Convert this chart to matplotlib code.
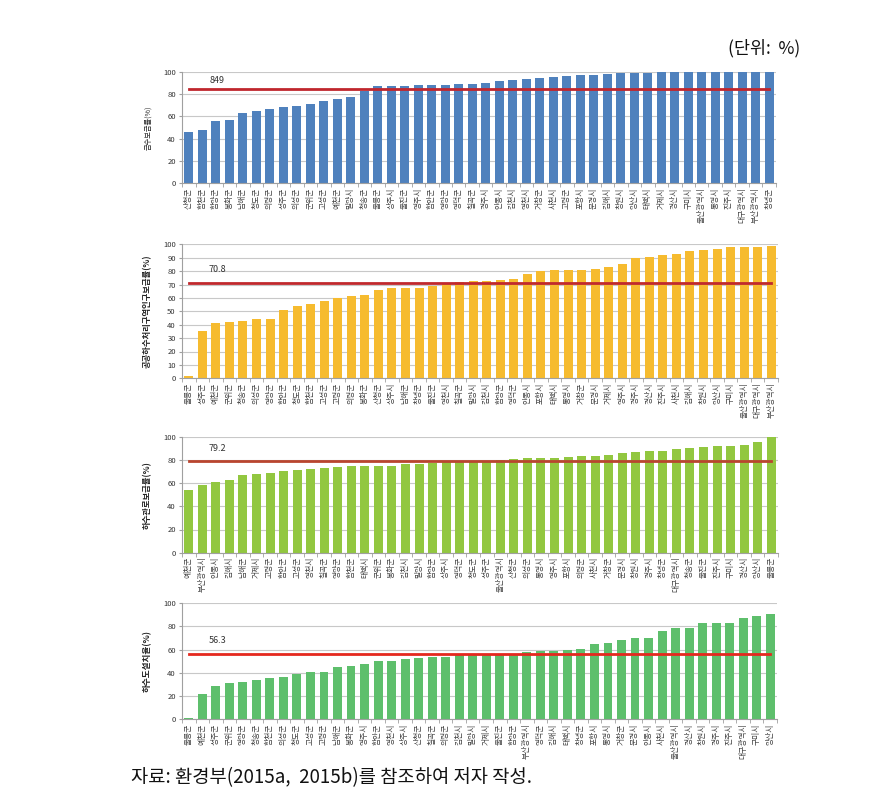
import matplotlib
matplotlib.use('Agg')
import matplotlib.pyplot as plt
import numpy as np

plt.rcParams['font.family'] = ['Noto Sans CJK KR', 'DejaVu Sans']

# 급수보급률
water_names = ['산청군', '합천군', '함양군', '봉화군', '남해군', '청도군', '의령군', '성주군', '의성군', '군위군',
               '고성군', '예천군', '밀양시', '청송군', '울릉군', '상주시', '울진군', '영주시', '함안군', '영양군',
               '영덕군', '칠곡군', '경주시', '안동시', '김천시', '영천시', '거창군', '사천시', '고령군', '포항시',
               '문경시', '김해시', '창원시', '양산시', '태백시', '거제시', '경산시', '구미시', '울산광역시', '통영시',
               '진주시', '대구광역시', '부산광역시', '창녕군']
water_vals = [46.3, 47.5, 55.8, 56.4, 63.3, 64.8, 66.3, 68.0, 69.0, 71.0,
              73.4, 75.2, 77.3, 82.7, 87.2, 87.2, 87.2, 88.0, 88.0, 88.4,
              89.3, 89.3, 89.9, 91.3, 92.2, 93.4, 94.0, 95.0, 95.8, 97.0,
              97.0, 97.9, 98.5, 98.5, 98.8, 99.4, 99.4, 99.4, 99.4, 99.7,
              100.0, 100.0, 100.0, 100.0]
water_mean = 84.9

# 공공하수처리구역인구보급률
sewer_names = ['울릉군', '성주군', '예천군', '군위군', '청송군', '의성군', '영양군', '함안군', '청도군', '합천군',
               '고성군', '고령군', '의령군', '봉화군', '산청군', '상주시', '남해군', '창녕군', '울진군', '영천시',
               '칠곡군', '밀양시', '김천시', '함양군', '영덕군', '안동시', '포항시', '태백시', '통영시', '거창군',
               '문경시', '거제시', '영주시', '경주시', '경산시', '진주시', '사천시', '김해시', '창원시', '양산시',
               '구미시', '울산광역시', '대구광역시', '부산광역시']
sewer_vals = [1.5, 35.6, 41.0, 41.8, 42.8, 44.3, 44.5, 50.7, 54.0, 55.5,
              57.7, 59.7, 61.4, 62.0, 66.0, 67.2, 67.7, 67.7, 68.7, 70.4,
              71.5, 72.4, 72.4, 73.1, 74.1, 77.6, 80.1, 80.8, 80.8, 80.8,
              81.6, 82.8, 85.6, 90.0, 90.3, 91.8, 92.5, 95.0, 95.8, 96.3,
              97.8, 97.8, 97.8, 99.0]
sewer_mean = 70.8

# 하수관로보급률
pipe_names = ['예천군', '부산광역시', '안동시', '김해시', '남해군', '거제시', '고령군', '함안군', '고성군', '영천시',
              '칠곡군', '영양군', '합천군', '태백시', '군위군', '봉화군', '김천시', '밀양시', '함양군', '상주시',
              '영덕군', '청도군', '성주군', '울산광역시', '산청군', '의성군', '통영시', '영주시', '포항시', '의령군',
              '사천시', '거창군', '문경시', '창원시', '경주시', '창녕군', '대구광역시', '청송군', '울진군', '진주시',
              '구미시', '경산시', '양산시', '울릉군']
pipe_vals = [53.7, 58.3, 61.2, 62.6, 67.0, 67.8, 69.0, 70.4, 71.0, 72.4,
             73.3, 73.6, 74.4, 74.4, 74.7, 74.7, 76.1, 76.7, 77.6, 78.2,
             78.6, 79.0, 79.0, 80.2, 81.0, 81.3, 81.6, 81.9, 82.2, 83.0,
             83.0, 84.5, 86.2, 87.0, 87.4, 87.4, 89.4, 90.5, 91.0, 92.0,
             92.2, 92.8, 95.1, 100.0]
pipe_mean = 79.2

# 하수도설치율
install_names = ['울릉군', '예천군', '성주군', '군위군', '영양군', '청송군', '합천군', '의성군', '청도군', '고성군',
                 '고령군', '남해군', '봉화군', '영주시', '함안군', '영천시', '상주시', '산청군', '칠곡군', '의령군',
                 '김천시', '밀양시', '거제시', '울진군', '함양군', '부산광역시', '영덕군', '김해시', '태백시', '창녕군',
                 '포항시', '통영시', '거창군', '문경시', '안동시', '사천시', '울산광역시', '경산시', '창원시', '경주시',
                 '진주시', '대구광역시', '구미시', '양산시']
install_vals = [1.0, 21.6, 28.5, 30.8, 32.3, 33.7, 35.4, 36.3, 38.6, 40.6,
                40.6, 45.0, 45.8, 47.3, 49.9, 50.4, 52.2, 53.0, 53.3, 53.3,
                55.3, 55.3, 55.3, 55.3, 55.3, 57.6, 58.8, 59.0, 59.4, 60.8,
                65.1, 65.4, 68.0, 70.3, 70.3, 76.4, 78.4, 79.0, 83.3, 83.3,
                83.3, 87.0, 89.3, 91.0]
install_mean = 56.3

W, H = 891, 809
fig = plt.figure(figsize=(W / 100, H / 100), dpi=100)


def px_axes(left, right, top, bottom):
    return fig.add_axes([left / W, 1 - bottom / H, (right - left) / W, (bottom - top) / H])


panels = [
    # names, values, mean, color, line color, ylabel, y step, label weight, label size, box, mean text y, text
    (water_names, water_vals, water_mean, '#4F81BD', '#C0262D', '급수보급률(%)', 20, 'normal', 5.2,
     (182, 776, 71.7, 183.3), 92.5, '849'),
    (sewer_names, sewer_vals, sewer_mean, '#F6BB2F', '#C0282D', '공공하수처리구역인구보급률(%)', 10, 'bold', 6.0,
     (182, 778, 244.3, 378.3), 81, '70.8'),
    (pipe_names, pipe_vals, pipe_mean, '#92C740', '#B9452F', '하수관로보급률(%)', 20, 'bold', 6.0,
     (182, 778, 436.7, 552.7), 89.5, '79.2'),
    (install_names, install_vals, install_mean, '#5EBF6C', '#E5281E', '하수도설치율(%)', 20, 'bold', 6.2,
     (182, 777, 603.3, 719.0), 67.5, '56.3'),
]

for names, vals, mean, color, lcolor, ylabel, step, weight, lsize, box, ty, ttext in panels:
    ax = px_axes(*box)
    x = np.arange(len(names))
    ax.bar(x, vals, width=0.66, color=color, zorder=2)
    ax.plot([x[0], x[-1]], [mean, mean], color=lcolor, lw=2.0, zorder=3)
    ax.text(2.1, ty, ttext, fontsize=6.5, ha='center', va='center', color='#333333')

    ax.set_xlim(-0.5, len(names) - 0.5)
    ax.set_ylim(0, 100)
    ax.set_yticks(np.arange(0, 101, step))
    ax.tick_params(axis='y', labelsize=5.5, length=2.5, color='#A0A0A0', pad=2, labelcolor='#333333')
    ax.grid(axis='y', color='#C8C8C8', lw=0.8, zorder=0)
    ax.set_axisbelow(True)

    ax.set_xticks(x)
    ax.set_xticklabels(names, rotation=90, fontsize=5.6, color='#404040')
    ax.set_xticks(np.arange(-0.5, len(names), 1), minor=True)
    ax.tick_params(axis='x', which='major', length=0, pad=3)
    ax.tick_params(axis='x', which='minor', length=3, color='#A0A0A0')

    for s in ['top', 'right']:
        ax.spines[s].set_visible(False)
    ax.spines['left'].set_color('#A0A0A0')
    ax.spines['bottom'].set_color('#A0A0A0')

    ax.set_ylabel(ylabel, fontsize=lsize, fontweight=weight, color='#222222')
    ax.yaxis.set_label_coords(-0.05, 0.5)

fig.text(800 / W, 1 - 48 / H, '(단위:  %)', fontsize=12.5, ha='right', va='center', color='#111111')
fig.text(131 / W, 1 - 778 / H, '자료: 환경부(2015a,  2015b)를 참조하여 저자 작성.', fontsize=13.5,
         ha='left', va='center', color='#111111')

fig.savefig('out.png', dpi=100)
